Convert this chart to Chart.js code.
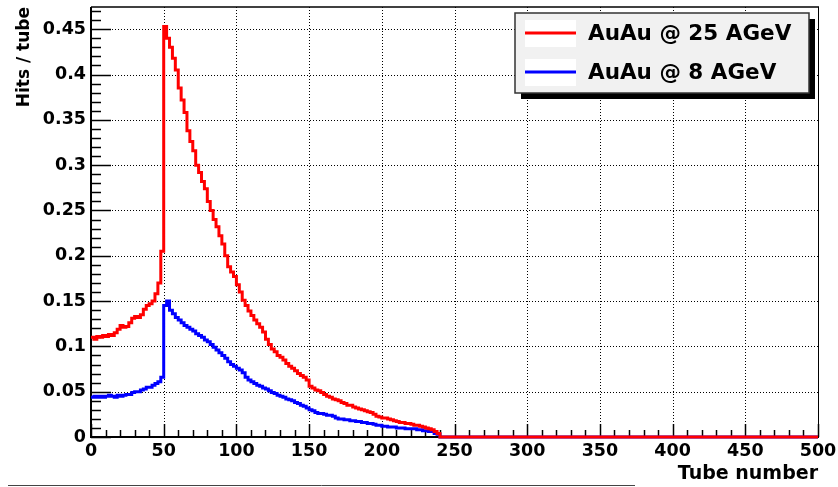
<!DOCTYPE html>
<html>
<head>
<meta charset="utf-8">
<script src="https://cdn.jsdelivr.net/npm/chart.js@4/dist/chart.umd.min.js"></script>
<style>
html,body{margin:0;padding:0;background:#fff;}
#wrap{width:838px;height:487px;position:relative;}
</style>
</head>
<body>
<div id="wrap"><canvas id="c" width="838" height="487"></canvas></div>
<script>
// ---- data ----
const seriesLabels = ['AuAu @ 25 AGeV', 'AuAu @ 8 AGeV'];
const BIN_WIDTH = 2;
// AuAu @ 25 AGeV, hits per tube, bins [0,2), [2,4), ... [238,240)
const red25 = [
0.110,0.108,0.111,0.110,0.112,0.111,0.113,0.112,0.115,0.119,
0.123,0.121,0.122,0.126,0.131,0.133,0.132,0.135,0.141,0.145,
0.147,0.150,0.158,0.170,0.205,0.453,0.440,0.430,0.418,0.405,
0.385,0.372,0.358,0.338,0.326,0.316,0.300,0.292,0.282,0.274,
0.260,0.250,0.240,0.232,0.222,0.213,0.200,0.188,0.182,0.177,
0.168,0.160,0.151,0.145,0.139,0.134,0.129,0.125,0.121,0.116,
0.108,0.102,0.097,0.094,0.090,0.088,0.085,0.081,0.078,0.076,
0.073,0.070,0.068,0.066,0.063,0.056,0.054,0.052,0.051,0.049,
0.047,0.045,0.044,0.042,0.041,0.040,0.038,0.037,0.035,0.035,
0.033,0.032,0.031,0.030,0.029,0.028,0.027,0.025,0.023,0.022,
0.021,0.021,0.020,0.019,0.018,0.017,0.016,0.016,0.015,0.015,
0.014,0.013,0.013,0.012,0.011,0.010,0.009,0.008,0.006,0.004
];
// AuAu @ 8 AGeV
const blue8 = [
0.044,0.045,0.044,0.045,0.044,0.045,0.046,0.045,0.044,0.046,
0.045,0.046,0.047,0.047,0.049,0.050,0.050,0.052,0.053,0.055,
0.055,0.057,0.059,0.061,0.066,0.145,0.150,0.140,0.136,0.132,
0.129,0.126,0.123,0.121,0.119,0.117,0.114,0.112,0.110,0.107,
0.105,0.102,0.099,0.096,0.093,0.090,0.087,0.083,0.080,0.078,
0.076,0.074,0.071,0.066,0.063,0.061,0.059,0.057,0.056,0.054,
0.053,0.051,0.049,0.048,0.046,0.045,0.044,0.042,0.041,0.040,
0.038,0.037,0.035,0.034,0.032,0.030,0.029,0.027,0.026,0.026,
0.025,0.024,0.024,0.023,0.021,0.020,0.020,0.019,0.019,0.018,
0.018,0.017,0.017,0.016,0.016,0.015,0.015,0.014,0.013,0.013,
0.012,0.012,0.011,0.011,0.011,0.010,0.010,0.010,0.009,0.009,
0.009,0.009,0.008,0.008,0.007,0.007,0.006,0.006,0.004,0.003
];
// empty tubes after the last filled bin up to the axis end
const emptyTubes = [240, 500];
const binLowEdges = red25.map((_, i) => i * BIN_WIDTH);

const xTickValues = [0,50,100,150,200,250,300,350,400,450,500];
const xTickLabels = ['0','50','100','150','200','250','300','350','400','450','500'];
const yTickValues = [0,0.05,0.1,0.15,0.2,0.25,0.3,0.35,0.4,0.45];
const yTickLabels = ['0','0.05','0.1','0.15','0.2','0.25','0.3','0.35','0.4','0.45'];
const X_MIN = 0, X_MAX = 500, Y_MIN = 0, Y_MAX = 0.4745;

function histPoints(vals) {
  const pts = binLowEdges.map((x, i) => ({x: x, y: vals[i]}));
  emptyTubes.forEach(x => pts.push({x: x, y: 0}));
  return pts;
}

const FONT = 'DejaVu Sans';

const rootFrame = {
  id: 'rootFrame',
  beforeDatasetsDraw(chart) {
    const {ctx, chartArea: a, scales: {x, y}} = chart;
    ctx.save();
    // dotted grid
    ctx.strokeStyle = '#000';
    ctx.lineWidth = 1;
    ctx.setLineDash([1, 2]);
    xTickValues.forEach(v => {
      if (v === X_MIN) return;
      const px = Math.round(x.getPixelForValue(v)) + 0.5;
      ctx.beginPath(); ctx.moveTo(px, a.bottom); ctx.lineTo(px, a.top); ctx.stroke();
    });
    yTickValues.forEach(v => {
      if (v === Y_MIN) return;
      const py = Math.round(y.getPixelForValue(v)) + 0.5;
      ctx.beginPath(); ctx.moveTo(a.left, py); ctx.lineTo(a.right, py); ctx.stroke();
    });
    ctx.setLineDash([]);
    // ticks
    ctx.lineWidth = 1.5;
    const yStep = yTickValues[1] - yTickValues[0];
    for (let k = 0; k * yStep / 5 <= Y_MAX + 1e-9; k++) {
      const v = k * yStep / 5;
      const py = Math.round(y.getPixelForValue(v)) + 0.5;
      const len = (k % 5 === 0) ? 20 : 10;
      ctx.beginPath(); ctx.moveTo(a.left, py); ctx.lineTo(a.left + len, py); ctx.stroke();
    }
    const xStep = xTickValues[1] - xTickValues[0];
    for (let k = 0; k * xStep / 5 <= X_MAX + 1e-9; k++) {
      const v = k * xStep / 5;
      const px = Math.round(x.getPixelForValue(v)) + 0.5;
      const len = (k % 5 === 0) ? 13 : 7;
      ctx.beginPath(); ctx.moveTo(px, a.bottom); ctx.lineTo(px, a.bottom - len); ctx.stroke();
    }
    // frame
    ctx.lineWidth = 1;
    ctx.beginPath(); ctx.moveTo(a.right + 0.5, a.top); ctx.lineTo(a.right + 0.5, a.bottom); ctx.stroke();
    ctx.lineWidth = 1.5;
    ctx.beginPath(); ctx.moveTo(a.left, a.top); ctx.lineTo(a.right + 1, a.top); ctx.stroke();
    ctx.lineWidth = 2;
    ctx.beginPath(); ctx.moveTo(a.left, a.top); ctx.lineTo(a.left, a.bottom + 1); ctx.stroke();
    ctx.beginPath(); ctx.moveTo(a.left - 1, a.bottom); ctx.lineTo(a.right + 1, a.bottom); ctx.stroke();
    ctx.restore();
  },
  afterDraw(chart) {
    const ctx = chart.ctx;
    ctx.save();
    // legend box with shadow
    const bx = 515, by = 13, bw = 294, bh = 80;
    ctx.fillStyle = '#000';
    ctx.fillRect(bx + 6, by + 6, bw, bh);
    ctx.fillStyle = '#f1f1f1';
    ctx.fillRect(bx, by, bw, bh);
    ctx.strokeStyle = '#333';
    ctx.lineWidth = 1.5;
    ctx.strokeRect(bx, by, bw, bh);
    const rows = [33, 72];
    chart.data.datasets.forEach((ds, i) => {
      const cy = rows[i];
      ctx.fillStyle = '#fff';
      ctx.fillRect(525, cy - 13, 51, 27);
      ctx.strokeStyle = ds.borderColor;
      ctx.lineWidth = 3;
      ctx.beginPath(); ctx.moveTo(525, cy); ctx.lineTo(576, cy); ctx.stroke();
      ctx.fillStyle = '#000';
      ctx.font = 'bold 21.5px "' + FONT + '"';
      ctx.textBaseline = 'middle';
      ctx.textAlign = 'left';
      ctx.fillText(ds.label, 588, cy + 1);
    });
    // page rule under the chart
    ctx.strokeStyle = '#444';
    ctx.lineWidth = 1;
    ctx.beginPath(); ctx.moveTo(8, 485.5); ctx.lineTo(635, 485.5); ctx.stroke();
    ctx.restore();
  }
};

new Chart(document.getElementById('c'), {
  type: 'line',
  data: {
    datasets: [
      {label: seriesLabels[0], data: histPoints(red25), borderColor: '#ff0000', stepped: 'before', borderWidth: 3, pointRadius: 0, fill: false, clip: false},
      {label: seriesLabels[1], data: histPoints(blue8), borderColor: '#0000ff', stepped: 'before', borderWidth: 3, pointRadius: 0, fill: false, clip: false}
    ]
  },
  options: {
    responsive: false,
    animation: false,
    devicePixelRatio: 1,
    layout: {padding: {left: 0, right: 20, top: 7, bottom: 0}},
    plugins: {legend: {display: false}, tooltip: {enabled: false}},
    scales: {
      x: {
        type: 'linear', min: X_MIN, max: X_MAX,
        grid: {display: false, drawTicks: false}, border: {display: false},
        afterFit(s) { s.height = 50; s.paddingLeft = 0; s.paddingRight = 0; },
        afterBuildTicks(s) { s.ticks = xTickValues.map(v => ({value: v})); },
        ticks: {
          font: {family: FONT, weight: 'bold', size: 17.5}, color: '#000',
          padding: 4, maxRotation: 0, autoSkip: false,
          callback: (v, i) => xTickLabels[i]
        },
        title: {display: true, text: 'Tube number', align: 'end', color: '#000',
          font: {family: FONT, weight: 'bold', size: 19}, padding: {top: 0, bottom: 2}}
      },
      y: {
        type: 'linear', min: Y_MIN, max: Y_MAX,
        grid: {display: false, drawTicks: false}, border: {display: false},
        afterFit(s) { s.width = 91; s.paddingTop = 0; s.paddingBottom = 0; },
        afterBuildTicks(s) { s.ticks = yTickValues.map(v => ({value: v})); },
        ticks: {
          font: {family: FONT, weight: 'bold', size: 17.5}, color: '#000',
          padding: 5, autoSkip: false,
          callback: (v, i) => yTickLabels[i]
        },
        title: {display: true, text: 'Hits / tube', align: 'end', color: '#000',
          font: {family: FONT, weight: 'bold', size: 17}, padding: {top: 14, bottom: 0}}
      }
    }
  },
  plugins: [rootFrame]
});
</script>
</body>
</html>
